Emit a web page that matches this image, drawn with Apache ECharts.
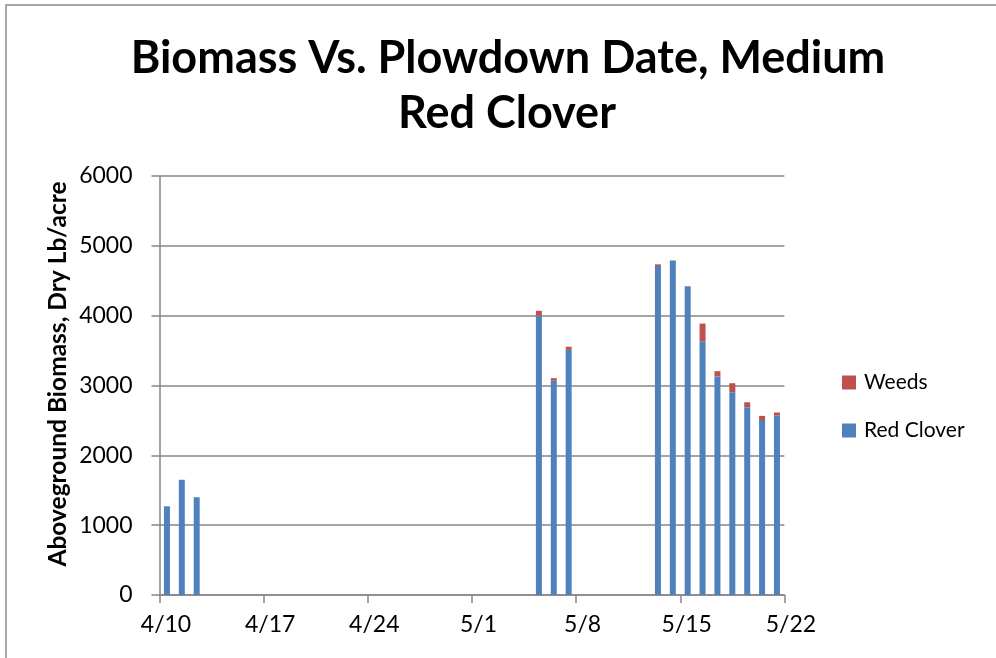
<!DOCTYPE html>
<html>
<head>
<meta charset="utf-8">
<script src="https://cdn.jsdelivr.net/npm/echarts@6/dist/echarts.min.js"></script>
<style>
html,body{margin:0;padding:0;background:#fff;}
#chart{width:996px;height:658px;}
</style>
</head>
<body>
<div id="chart"></div>
<script>
// Data
var titleLines = ['Biomass Vs. Plowdown Date, Medium', 'Red Clover'];
var yAxisTitle = 'Aboveground Biomass, Dry Lb/acre';
var seriesNames = ['Red Clover', 'Weeds'];
var axisStart = '2013-04-10';
var axisDays = 42;
var xTickLabels = ['4/10', '4/17', '4/24', '5/1', '5/8', '5/15', '5/22'];
var barDates = ['4/10', '4/11', '4/12', '5/5', '5/6', '5/7', '5/13', '5/14', '5/15', '5/16', '5/17', '5/18', '5/19', '5/20', '5/21'];
var redClover = [1270, 1650, 1400, 4000, 3070, 3510, 4710, 4790, 4420, 3635, 3130, 2905, 2690, 2505, 2570];
var weeds = [0, 0, 0, 70, 35, 45, 25, 0, 0, 252, 75, 128, 70, 60, 43];

// axis categories: one per day of the axis range
var dayCats = [];
var d0 = new Date(axisStart + 'T00:00:00Z');
for (var i = 0; i < axisDays; i++) {
  var d = new Date(d0.getTime() + i * 86400000);
  dayCats.push((d.getUTCMonth() + 1) + '/' + d.getUTCDate());
}

var FONT = 'Lato, "Open Sans", sans-serif';
var axisGrey = '#868686';
var chart = echarts.init(document.getElementById('chart'), null, {renderer: 'canvas'});
chart.setOption({
  animation: false,
  backgroundColor: '#ffffff',
  graphic: [
    {type: 'rect', shape: {x: 6, y: 5, width: 1100, height: 800}, style: {fill: 'none', stroke: '#8a8a8a', lineWidth: 1.5}, silent: true},
    {type: 'text', style: {text: titleLines[0], x: 508, y: 58, align: 'center', verticalAlign: 'middle', font: 'bold 45px ' + FONT, fill: '#000'}},
    {type: 'text', style: {text: titleLines[1], x: 507, y: 113, align: 'center', verticalAlign: 'middle', font: 'bold 45px ' + FONT, fill: '#000'}},
    {type: 'text', x: 58, y: 374, rotation: Math.PI / 2, style: {text: yAxisTitle, x: 0, y: 0, align: 'center', verticalAlign: 'middle', font: 'bold 24.5px ' + FONT, fill: '#000'}}
  ],
  legend: {
    data: ['Weeds', 'Red Clover'],
    orient: 'vertical',
    left: 837,
    top: 367,
    itemWidth: 14,
    itemHeight: 14,
    itemGap: 27,
    icon: 'rect',
    textStyle: {fontFamily: FONT, fontSize: 21, color: '#000', padding: [0, 0, 0, 3]}
  },
  grid: {left: 159.5, right: 211.6, top: 176, bottom: 63},
  xAxis: [
    {
      type: 'category',
      data: dayCats,
      boundaryGap: true,
      axisLine: {show: true, lineStyle: {color: axisGrey, width: 1.5}},
      axisTick: {show: false},
      axisLabel: {show: false},
      splitLine: {show: false}
    },
    {
      type: 'value',
      position: 'bottom',
      min: 0,
      max: axisDays,
      interval: 7,
      axisLine: {show: false},
      axisTick: {show: true, length: 8, lineStyle: {color: axisGrey, width: 1.5}},
      axisLabel: {
        show: true,
        margin: 18,
        fontFamily: FONT,
        fontSize: 23,
        color: '#000',
        padding: [0, 0, 0, 13],
        formatter: function (v) { return xTickLabels[Math.round(v / 7)]; }
      },
      splitLine: {show: false}
    }
  ],
  yAxis: {
    type: 'value',
    min: 0,
    max: 6000,
    interval: 1000,
    axisLine: {show: true, lineStyle: {color: axisGrey, width: 1.5}},
    axisTick: {show: true, length: 8, lineStyle: {color: axisGrey, width: 1.5}},
    axisLabel: {fontFamily: FONT, fontSize: 23, color: '#000', margin: 27, formatter: function (v) { return String(v); }},
    splitLine: {show: true, lineStyle: {color: axisGrey, width: 1.5}}
  },
  series: [
    {
      name: seriesNames[0],
      type: 'bar',
      stack: 'total',
      xAxisIndex: 0,
      barWidth: 6,
      itemStyle: {color: '#4F81BD'},
      data: barDates.map(function (dt, i) { return [dt, redClover[i]]; })
    },
    {
      name: seriesNames[1],
      type: 'bar',
      stack: 'total',
      xAxisIndex: 0,
      barWidth: 6,
      itemStyle: {color: '#C0504D'},
      data: barDates.map(function (dt, i) { return [dt, weeds[i]]; })
    }
  ]
});
</script>
</body>
</html>
